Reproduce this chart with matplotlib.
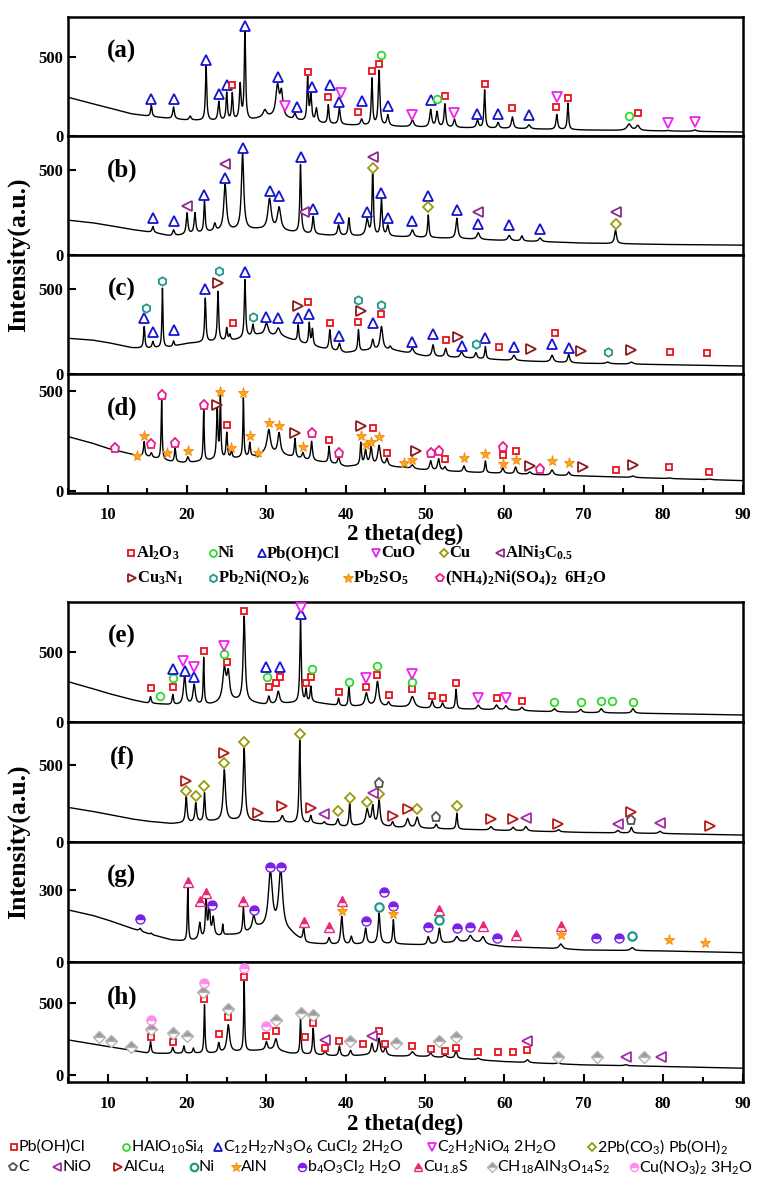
import numpy as np
import matplotlib.pyplot as plt
from matplotlib.ticker import MultipleLocator

plt.rcParams['font.family'] = ['Liberation Serif', 'DejaVu Serif']
plt.rcParams['font.weight'] = 'bold'
plt.rcParams['mathtext.default'] = 'regular'

# ---------------------------------------------------------------
# data: background knots (2theta, I),
# peaks (2theta, apex I, fwhm) and phase markers (2theta, I)
# ---------------------------------------------------------------
BASE_A = [(5, 245), (8, 205), (10, 180), (13, 140), (16, 120), (20, 100), (24, 95), (28, 100),
          (30, 120), (33, 105), (36, 82), (40, 70), (45, 62), (50, 55), (60, 48), (70, 38), (80, 32), (90, 25)]
PEAKS_A = [(15.5, 196, .2), (18.3, 183, .25), (20.4, 125, .3), (22.4, 440, .2), (24.0, 215, .25),
           (25.0, 270, .2), (25.7, 265, .2), (26.7, 320, .25), (27.3, 660, .2), (29.8, 160, .5),
           (31.4, 310, .5), (31.9, 260, .4), (33.6, 140, .3), (35.2, 365, .2), (35.6, 250, .25),
           (36.3, 170, .3), (37.8, 195, .2), (39.2, 180, .25), (42.0, 105, .3), (43.3, 360, .2),
           (44.2, 410, .25), (45.3, 130, .3), (48.4, 100, .4), (50.7, 165, .3), (51.5, 150, .3),
           (52.5, 200, .25), (53.7, 105, .3), (56.6, 100, .3), (57.5, 290, .2), (59.2, 85, .3),
           (61.0, 120, .3), (63.1, 70, .4), (66.6, 135, .25), (68.0, 207, .2), (75.7, 75, .6),
           (76.8, 65, .5), (80.6, 35, .5), (84.0, 38, .5)]
MARKS_A = {
    'pbohcl_t': [(15.5, 234), (18.3, 234), (22.4, 481), (24.0, 264), (25.0, 323), (27.3, 696), (31.5, 371),
                 (33.9, 186), (35.8, 308), (38.0, 323), (39.1, 213), (42.1, 222), (45.3, 190), (50.7, 228),
                 (56.6, 137), (59.2, 137), (63.1, 132)],
    'al2o3': [(25.7, 323), (35.2, 407), (37.8, 249), (41.6, 150), (43.3, 413), (44.2, 454), (52.5, 255),
              (57.5, 327), (61.0, 175), (66.5, 186), (68.0, 243), (76.8, 143)],
    'ni': [(44.4, 513), (51.5, 232), (75.7, 127)],
    'cuo': [(32.4, 190), (39.4, 270), (48.4, 133), (53.7, 148), (66.6, 249), (80.6, 84), (84.0, 91)],
}

BASE_B = [(5, 205), (8, 190), (10, 175), (13, 150), (16, 130), (18, 110), (20, 120), (23, 135), (26, 145),
          (29, 150), (32, 140), (35, 125), (38, 115), (42, 110), (46, 108), (50, 103), (55, 95), (60, 85),
          (65, 78), (70, 70), (80, 62), (90, 58)]
PEAKS_B = [(15.7, 167, .25), (18.3, 147, .3), (20.0, 245, .25), (21.0, 245, .25), (22.2, 313, .2),
           (23.5, 180, .3), (24.8, 412, .4), (27.0, 594, .35), (30.4, 327, .5), (31.6, 275, .5),
           (34.3, 529, .2), (35.9, 225, .25), (39.1, 176, .3), (40.4, 216, .25), (42.7, 206, .4),
           (43.4, 500, .2), (44.5, 327, .25), (45.3, 170, .3), (48.4, 147, .4), (50.4, 235, .2),
           (54.0, 216, .3), (56.7, 130, .4), (60.6, 115, .4), (62.2, 112, .3), (64.5, 100, .4), (74.0, 147, .3)]
MARKS_B = {
    'pbohcl_t': [(15.7, 216), (18.3, 202), (22.2, 353), (24.8, 451), (27.0, 627), (30.4, 378), (31.6, 347),
                 (34.3, 578), (35.9, 269), (39.1, 216), (42.7, 255), (44.5, 366), (45.3, 216), (48.4, 202),
                 (50.4, 347), (54.0, 265), (56.7, 182), (60.6, 176), (64.5, 151)],
    'alni3c': [(20.0, 288), (24.8, 533), (34.8, 255), (43.4, 578), (56.7, 251), (74.0, 251)],
    'cu': [(43.4, 510), (50.4, 284), (74.0, 182)],
}

BASE_C = [(5, 210), (8, 200), (10, 185), (13, 155), (15, 150), (18, 160), (20, 180), (23, 190), (26, 200),
          (29, 230), (32, 220), (35, 175), (38, 140), (40, 125), (43, 140), (46, 140), (50, 105), (55, 95),
          (60, 82), (65, 72), (70, 63), (80, 55), (90, 47)]
PEAKS_C = [(14.6, 278, .2), (15.7, 190, .25), (16.9, 504, .15), (18.3, 194, .2), (22.3, 445, .2),
           (23.9, 484, .2), (25.0, 269, .2), (25.4, 230, .2), (27.3, 553, .2), (28.3, 288, .25),
           (30.0, 298, .5), (31.5, 269, .5), (34.0, 288, .2), (35.4, 298, .2), (35.8, 260, .2),
           (38.0, 259, .25), (39.2, 180, .3), (41.6, 259, .2), (43.4, 200, .3), (44.5, 278, .4),
           (45.6, 160, .3), (48.4, 151, .4), (51.0, 171, .3), (52.6, 150, .3), (54.6, 130, .4),
           (56.4, 125, .3), (57.6, 161, .2), (61.2, 110, .4), (66.0, 110, .4), (68.1, 115, .3),
           (73.0, 70, .5), (76.0, 70, .5)]
MARKS_C = {
    'pbohcl_t': [(14.6, 327), (15.7, 249), (18.3, 259), (22.3, 498), (27.3, 602), (30.0, 337), (31.5, 327),
                 (34.0, 327), (35.4, 351), (39.2, 225), (43.4, 302), (48.4, 190), (51.0, 235), (54.6, 165),
                 (57.6, 213), (61.2, 157), (66.0, 176), (68.1, 151)],
    'pb2ni': [(14.8, 386), (16.9, 547), (24.0, 606), (28.3, 337), (41.6, 435), (44.5, 406), (56.4, 176),
              (73.0, 131)],
    'cu3n': [(23.9, 533), (34.0, 400), (41.9, 372), (54.1, 219), (63.3, 149), (69.7, 137), (76.0, 143)],
    'al2o3': [(25.8, 298), (35.2, 422), (38.0, 302), (41.6, 308), (44.5, 353), (52.6, 200), (59.3, 157),
              (66.4, 243), (80.9, 127), (85.5, 122)],
}

BASE_D = [(5, 272), (8, 240), (10, 213), (13, 185), (15, 172), (18, 147), (20, 140), (22, 150), (25, 160),
          (28, 170), (30, 190), (32, 180), (35, 155), (38, 140), (40, 122), (43, 130), (45, 125), (50, 105),
          (55, 95), (60, 88), (65, 80), (70, 75), (80, 63), (90, 52)]
PEAKS_D = [(13.7, 160, .3), (14.6, 247, .2), (15.5, 190, .25), (16.8, 455, .15), (18.5, 213, .2),
           (20.1, 170, .3), (22.1, 405, .15), (23.8, 413, .2), (24.2, 472, .15), (25.0, 288, .2),
           (25.6, 200, .2), (27.1, 463, .15), (27.9, 240, .2), (28.9, 165, .3), (30.3, 305, .5),
           (31.6, 288, .4), (33.6, 260, .2), (34.6, 190, .3), (35.7, 247, .25), (37.9, 222, .2),
           (39.1, 170, .3), (41.9, 238, .2), (42.5, 200, .3), (43.2, 215, .3), (44.2, 225, .4),
           (45.2, 160, .3), (47.3, 120, .4), (48.4, 130, .4), (50.7, 150, .3), (51.7, 160, .3),
           (52.5, 120, .3), (54.9, 125, .3), (57.6, 150, .2), (59.8, 115, .3), (61.4, 120, .3),
           (63.2, 95, .4), (66.0, 105, .4), (68.1, 95, .3), (76.2, 75, .5), (80.8, 65, .5), (85.8, 60, .5)]
MARKS_D = {
    'nh4': [(10.9, 217), (15.5, 233), (16.8, 480), (18.5, 242), (22.1, 430), (35.7, 292), (39.1, 192),
            (50.7, 188), (51.7, 202), (59.8, 222), (64.5, 110)],
    'pb2so5': [(13.7, 175), (14.6, 277), (17.5, 188), (20.1, 200), (24.2, 497), (25.6, 213), (27.1, 488),
               (27.9, 277), (28.9, 188), (30.3, 338), (31.6, 327), (34.6, 222), (41.9, 275), (42.5, 230),
               (43.2, 247), (44.2, 272), (47.3, 142), (48.4, 155), (54.9, 163), (57.6, 185), (59.8, 135),
               (61.4, 155), (66.0, 150), (68.1, 138)],
    'cu3n': [(23.8, 430), (33.6, 292), (41.9, 325), (48.9, 202), (63.2, 125), (69.9, 118), (76.2, 130)],
    'al2o3': [(25.0, 330), (37.9, 255), (43.4, 313), (45.2, 192), (52.5, 158), (59.8, 180), (61.4, 202),
              (74.1, 105), (80.8, 118), (85.8, 97)],
}

BASE_E = [(5, 288), (8, 240), (10, 205), (13, 160), (15, 135), (18, 122), (20, 120), (23, 125), (26, 150),
          (28, 140), (30, 121), (33, 135), (36, 140), (40, 110), (43, 115), (46, 110), (50, 98), (55, 92),
          (60, 86), (65, 75), (70, 67), (80, 60), (90, 50)]
PEAKS_E = [(15.4, 181, .2), (18.2, 193, .2), (19.7, 328, .35), (20.9, 264, .35), (22.1, 455, .15),
           (24.7, 371, .5), (25.2, 330, .4), (27.2, 752, .3), (30.3, 181, .3), (31.5, 217, .4),
           (34.3, 728, .2), (35.0, 228, .2), (35.6, 250, .2), (39.1, 169, .2), (40.4, 252, .2),
           (42.6, 205, .4), (44.0, 288, .4), (45.4, 140, .3), (48.4, 181, .6), (50.9, 150, .3),
           (52.2, 135, .3), (53.9, 233, .2), (56.7, 120, .4), (59.0, 120, .4), (60.2, 115, .4),
           (62.2, 105, .4), (66.3, 95, .4), (69.6, 90, .4), (72.2, 95, .4), (76.2, 95, .4)]
MARKS_E = {
    'pbohcl': [(15.4, 240), (18.2, 248), (22.1, 507), (25.1, 431), (27.2, 793), (30.3, 248), (31.2, 281),
               (31.7, 319), (35.0, 276), (35.6, 319), (39.1, 217), (42.6, 248), (44.0, 333), (45.4, 193),
               (48.4, 236), (50.9, 186), (52.2, 169), (53.9, 276), (59.0, 174), (62.2, 150)],
    'halo': [(16.6, 188), (18.2, 312), (24.7, 486), (30.1, 319), (35.7, 376), (40.4, 288), (44.0, 400),
             (48.4, 288), (66.3, 140), (69.6, 140), (72.2, 150), (73.5, 150), (76.2, 145)],
    'cucl': [(18.2, 378), (19.7, 364), (20.9, 324), (29.9, 390), (31.7, 390), (34.3, 771)],
    'c2h2': [(19.5, 438), (20.9, 395), (24.7, 543), (34.3, 816), (42.6, 317), (48.4, 343), (56.7, 169),
             (60.2, 169)],
}

BASE_F = [(5, 225), (8, 200), (10, 180), (13, 150), (15, 135), (18, 120), (20, 125), (23, 135), (26, 140),
          (30, 130), (33, 125), (36, 120), (40, 100), (43, 115), (46, 95), (50, 88), (55, 82), (60, 75),
          (70, 62), (80, 55), (90, 45)]
PEAKS_F = [(19.9, 294, .25), (21.1, 251, .25), (22.2, 316, .2), (24.7, 467, .35), (27.2, 608, .3),
           (28.9, 140, .3), (32.0, 170, .4), (34.2, 662, .2), (35.6, 170, .25), (37.3, 130, .3),
           (39.0, 150, .3), (40.5, 251, .2), (42.7, 210, .4), (43.4, 230, .3), (44.2, 273, .3),
           (45.9, 130, .3), (47.8, 150, .4), (49.0, 160, .4), (51.4, 115, .3), (54.0, 186, .2),
           (58.3, 100, .4), (61.1, 95, .4), (62.7, 100, .4), (66.8, 80, .4), (74.3, 75, .4),
           (76.0, 95, .3), (79.6, 70, .4)]
MARKS_F = {
    'pbco3': [(19.9, 331), (21.1, 299), (22.2, 364), (24.7, 511), (27.2, 647), (34.2, 699), (39.0, 203),
              (40.5, 288), (42.7, 258), (44.2, 310), (49.0, 212), (54.0, 234)],
    'alcu4': [(19.9, 396), (24.7, 576), (28.9, 186), (32.0, 234), (35.6, 219), (45.9, 172), (47.8, 212),
              (58.3, 147), (61.1, 147), (66.8, 117), (76.0, 197), (85.9, 104)],
    'nio': [(37.3, 180), (43.4, 316), (62.7, 154), (74.3, 117), (79.6, 121)],
    'c': [(44.2, 381), (51.4, 164), (76.0, 143)],
}

BASE_G = [(5, 217), (8, 195), (10, 175), (13, 140), (15, 119), (18, 92), (20, 85), (22, 95), (25, 112),
          (27, 115), (29, 140), (33, 120), (35, 78), (38, 72), (40, 71), (43, 75), (46, 75), (50, 71),
          (53, 80), (56, 85), (58, 72), (60, 64), (65, 58), (70, 50), (80, 46), (90, 39)]
PEAKS_G = [(14.1, 140, .3), (15.5, 120, .2), (20.1, 314, .15), (21.6, 160, .3), (22.4, 265, .2),
           (22.8, 230, .25), (23.3, 180, .3), (24.5, 154, .15), (27.1, 224, .2), (28.4, 189, .4),
           (30.5, 369, .6), (31.8, 376, .6), (34.7, 140, .25), (37.9, 100, .3), (39.5, 189, .3),
           (40.7, 105, .3), (42.5, 140, .3), (44.2, 203, .3), (46.0, 175, .2), (50.4, 105, .3),
           (51.8, 140, .3), (54.0, 105, .5), (55.7, 110, .5), (57.3, 105, .5), (67.1, 75, .5), (76.1, 60, .5)]
MARKS_G = {
    'b4o3': [(14.1, 179), (23.2, 238), (28.4, 217), (30.5, 397), (31.8, 397), (42.5, 171), (44.8, 293),
             (46.0, 233), (50.4, 147), (54.0, 140), (55.7, 147), (59.0, 99), (71.6, 99), (74.4, 99)],
    'cu18s': [(20.1, 335), (21.6, 254), (22.4, 286), (27.1, 254), (34.7, 168), (37.9, 144), (39.5, 254),
              (51.8, 217), (57.3, 150), (61.4, 112), (67.1, 150)],
    'aln': [(39.5, 214), (46.0, 199), (67.1, 112), (80.7, 92), (85.3, 80)],
    'ni2': [(44.2, 228), (51.8, 175), (76.1, 108)],
}

BASE_H = [(5, 243), (8, 215), (10, 197), (13, 170), (15, 150), (18, 148), (20, 150), (23, 150), (26, 160),
          (29, 170), (31, 175), (33, 150), (36, 140), (40, 127), (43, 140), (46, 130), (50, 127), (55, 110),
          (60, 92), (65, 80), (70, 69), (80, 58), (90, 46)]
PEAKS_H = [(15.4, 231, .2), (18.2, 190, .25), (19.6, 200, .2), (20.8, 185, .2), (22.2, 486, .15),
           (24.0, 220, .25), (25.2, 347, .4), (27.2, 648, .15), (30.0, 230, .3), (31.2, 250, .4),
           (34.3, 405, .15), (35.9, 324, .2), (37.4, 165, .3), (39.2, 200, .25), (40.6, 170, .3),
           (43.3, 215, .3), (44.2, 250, .35), (45.0, 190, .3), (48.4, 160, .5), (50.7, 150, .4),
           (52.5, 140, .4), (53.9, 170, .3), (56.7, 115, .5), (62.9, 105, .4), (66.7, 82, .5), (75.3, 70, .5)]
MARKS_H = {
    'pbohcl': [(15.4, 266), (18.2, 227), (22.2, 525), (24.0, 285), (25.2, 400), (27.2, 678), (30.0, 273),
               (31.2, 308), (34.9, 266), (35.9, 359), (37.4, 185), (39.2, 238), (42.2, 213), (44.2, 305),
               (45.0, 213), (48.4, 201), (50.7, 178), (52.5, 169), (53.9, 190), (56.7, 157), (59.2, 157),
               (61.1, 160), (62.9, 174)],
    'ch18': [(8.9, 262), (10.4, 238), (13.0, 197), (15.4, 319), (18.2, 294), (20.0, 271), (22.0, 578),
             (25.2, 456), (31.2, 382), (34.3, 432), (35.9, 417), (40.6, 238), (46.3, 220), (51.8, 238),
             (53.9, 266), (66.7, 127), (71.7, 127), (77.6, 123)],
    'cuno3': [(15.4, 382), (22.2, 641), (27.2, 740), (30.0, 340)],
    'nio': [(37.4, 243), (43.3, 271), (62.9, 238), (75.3, 123), (79.7, 121)],
}

PANEL_LABELS = ['(a)', '(b)', '(c)', '(d)', '(e)', '(f)', '(g)', '(h)']
YLIMS = [(0, 753), (0, 700), (0, 700), (-10, 585), (0, 857), (0, 780), (0, 500), (-50, 785)]
YTICKS = [[0, 500], [0, 500], [0, 500], [0, 500], [0, 500], [0, 500], [0, 300], [0, 500]]

TOP_LEGEND = [
    [('al2o3', 'Al$_2$O$_3$'), ('ni', 'Ni'), ('pbohcl_t', 'Pb(OH)Cl'), ('cuo', 'CuO'), ('cu', 'Cu'),
     ('alni3c', 'AlNi$_3$C$_{0.5}$')],
    [('cu3n', 'Cu$_3$N$_1$'), ('pb2ni', 'Pb$_2$Ni(NO$_2$)$_6$'), ('pb2so5', 'Pb$_2$SO$_5$'),
     ('nh4', '(NH$_4$)$_2$Ni(SO$_4$)$_2$  6H$_2$O')],
]
BOTTOM_LEGEND = [
    [('pbohcl', 'Pb(OH)Cl'), ('halo', 'HAlO$_{10}$Si$_4$'), ('cucl', 'C$_{12}$H$_{27}$N$_3$O$_6$ CuCl$_2$ 2H$_2$O'),
     ('c2h2', 'C$_2$H$_2$NiO$_4$ 2H$_2$O'), ('pbco3', '2Pb(CO$_3$) Pb(OH)$_2$')],
    [('c', 'C'), ('nio', 'NiO'), ('alcu4', 'AlCu$_4$'), ('ni2', 'Ni'), ('aln', 'AlN'),
     ('b4o3', 'b$_4$O$_3$Cl$_2$ H$_2$O'), ('cu18s', 'Cu$_{1.8}$S'), ('ch18', 'CH$_{18}$AlN$_3$O$_{14}$S$_2$'),
     ('cuno3', 'Cu(NO$_3$)$_2$ 3H$_2$O')],
]


# ---------------------------------------------------------------
# marker styles
# ---------------------------------------------------------------
def hollow(m, c, ms=5.5, mew=1.3):
    return dict(marker=m, ms=ms, mec=c, mfc='white', mew=mew)


def half(m, c, ms=6.5, edge=None):
    return dict(marker=m, ms=ms, mec=edge or c, mfc=c, markerfacecoloralt='white', fillstyle='top', mew=1.0)


STYLES = {
    'al2o3': hollow('s', '#e8141c', 4.5), 'pbohcl': hollow('s', '#e8141c', 4.5),
    'ni': hollow('o', '#2ed82e', 5.5), 'halo': hollow('o', '#2ed82e', 5.5),
    'pbohcl_t': hollow('^', '#1414d2', 6.5), 'cucl': hollow('^', '#1414d2', 6.5),
    'cuo': hollow('v', '#ee22ee', 6.5), 'c2h2': hollow('v', '#ee22ee', 6.5),
    'cu': hollow('D', '#9a9a10', 5), 'pbco3': hollow('D', '#9a9a10', 5),
    'alni3c': hollow('<', '#8e2a8e', 6.5), 'nio': hollow('<', '#a52aa5', 6.5),
    'cu3n': hollow('>', '#8b1a1a', 6.5), 'alcu4': hollow('>', '#b81818', 6.5),
    'pb2ni': hollow('h', '#1f9a8a', 6), 'ni2': hollow('o', '#1f9a8a', 6, 1.6),
    'pb2so5': dict(marker='*', ms=8, mec='#f08a10', mfc='#ffa41c', mew=0.6),
    'aln': dict(marker='*', ms=8, mec='#f08a10', mfc='#ffa41c', mew=0.6),
    'nh4': hollow('p', '#e81c8c', 6.5),
    'c': hollow('p', '#555555', 6.5),
    'b4o3': half('o', '#7a22e8'),
    'cu18s': half('^', '#e8287a', 7),
    'ch18': half('D', '#9a9a9a', 6, '#b4b4b4'),
    'cuno3': half('o', '#ff8cee'),
}

TWO_THETA = np.linspace(5, 90, 3401)


def pattern(base, peaks):
    bx = [p[0] for p in base]
    by = [p[1] for p in base]
    y = np.interp(TWO_THETA, bx, by)
    for pos, top, w in peaks:
        h = top - np.interp(pos, bx, by)
        y = y + h / (1 + ((TWO_THETA - pos) / (w / 2)) ** 2)
    return y


def draw_panel(ax, base, peaks, marks, label, ylim, yticks, show_x):
    ax.plot(TWO_THETA, pattern(base, peaks), color='black', lw=1.0, zorder=2)
    for key, pts in marks.items():
        ax.plot([p[0] for p in pts], [p[1] for p in pts], linestyle='none', zorder=3, **STYLES[key])
    ax.set_xlim(5, 90)
    ax.set_ylim(*ylim)
    ax.set_yticks(yticks)
    ax.xaxis.set_major_locator(MultipleLocator(10))
    ax.xaxis.set_minor_locator(MultipleLocator(5))
    ax.tick_params(axis='both', which='both', direction='in', top=False, right=False,
                   labelsize=12, width=1.5)
    ax.tick_params(which='major', length=6)
    ax.tick_params(which='minor', length=3.5)
    if not show_x:
        ax.tick_params(axis='x', which='both', bottom=False, labelbottom=False)
    else:
        ax.tick_params(axis='x', pad=10)
    for s in ax.spines.values():
        s.set_linewidth(1.8)
    ax.text(0.08, 0.71, label, transform=ax.transAxes, fontsize=18, fontweight='bold',
            ha='center', va='center')


W, H = 761, 1188
fig = plt.figure(figsize=(W / 100, H / 100), dpi=100)

panels = [
    (BASE_A, PEAKS_A, MARKS_A), (BASE_B, PEAKS_B, MARKS_B), (BASE_C, PEAKS_C, MARKS_C),
    (BASE_D, PEAKS_D, MARKS_D), (BASE_E, PEAKS_E, MARKS_E), (BASE_F, PEAKS_F, MARKS_F),
    (BASE_G, PEAKS_G, MARKS_G), (BASE_H, PEAKS_H, MARKS_H),
]
tops = [17, 136, 255, 374, 602, 722, 842, 962]
heights = [119, 119, 119, 119, 120, 120, 120, 120]
left, right = 68, 742.5

for i, (base, peaks, marks) in enumerate(panels):
    ax = fig.add_axes([left / W, 1 - (tops[i] + heights[i]) / H, (right - left) / W, heights[i] / H])
    draw_panel(ax, base, peaks, marks, PANEL_LABELS[i], YLIMS[i], YTICKS[i], i in (3, 7))

# overlay in pixel coordinates for the shared labels and the legends
ov = fig.add_axes([0, 0, 1, 1])
ov.set_xlim(0, W)
ov.set_ylim(H, 0)
ov.axis('off')

for yc in (255, 842):
    ov.text(18, yc, 'Intensity(a.u.)', rotation=90, fontsize=18.5, fontweight='bold', ha='center', va='center')
for yc in (534, 1124):
    ov.text(405, yc, '2 theta(deg)', fontsize=16.5, fontweight='bold', ha='center', va='center')

top_x = [[131, 213, 262, 376, 444, 500], [132, 213, 348, 440]]
top_y = [553, 578]
for row, xs, yr in zip(TOP_LEGEND, top_x, top_y):
    for (key, txt), xm in zip(row, xs):
        st = dict(STYLES[key])
        st['ms'] = st['ms'] * 0.9
        ov.plot([xm], [yr], linestyle='none', **st)
        ov.text(xm + 5, yr, txt, fontsize=12, fontweight='bold', ha='left', va='center')

bot_x = [[14, 126, 218, 432, 592], [13, 57, 118, 194, 236, 302, 418, 492, 634]]
bot_y = [1147, 1167]
for row, xs, yr in zip(BOTTOM_LEGEND, bot_x, bot_y):
    for (key, txt), xm in zip(row, xs):
        st = dict(STYLES[key])
        st['ms'] = st['ms'] * 0.9
        ov.plot([xm], [yr], linestyle='none', **st)
        ov.text(xm + 5, yr, txt, fontsize=11.5, family=['Lato', 'DejaVu Sans'], fontweight='normal',
                ha='left', va='center')

fig.savefig('out.png', dpi=100)
